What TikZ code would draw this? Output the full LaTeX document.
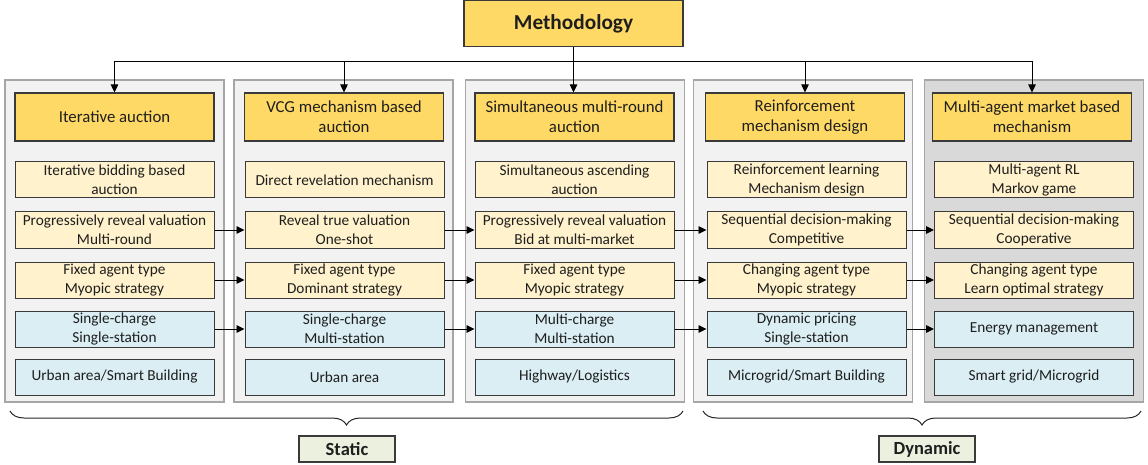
\documentclass[tikz,border=0pt]{standalone}
\usepackage{fontspec}
\setmainfont{Carlito}
\usetikzlibrary{arrows.meta,decorations.pathreplacing}
\definecolor{gold}{HTML}{FFD966}
\definecolor{cream}{HTML}{FFF2CC}
\definecolor{ltblue}{HTML}{DAEEF3}
\definecolor{panel}{HTML}{F2F2F2}
\definecolor{panelB}{HTML}{D9D9D9}
\definecolor{edge}{HTML}{3A3A3A}
\definecolor{ltgreen}{HTML}{EBF1DE}
\definecolor{txt}{HTML}{1E1E1E}
\begin{document}
\begin{tikzpicture}[x=1pt,y=-1pt,
  every node/.style={font=\fontsize{15.3}{18.7}\selectfont, text=txt, align=center, inner sep=0pt},
  panelbox/.style={draw=black!35, line width=1.3pt, fill=panel, minimum width=219pt, minimum height=322pt},
  headbox/.style={draw=edge, line width=1.1pt, fill=gold, minimum width=199pt, minimum height=48pt, font=\fontsize{16.8}{20.3}\selectfont},
  ybox/.style={draw=edge, line width=1pt, fill=cream, minimum width=199pt, minimum height=36pt},
  bbox/.style={draw=edge, line width=1pt, fill=ltblue, minimum width=199pt, minimum height=36pt},
  lblbox/.style={draw=edge, line width=1.1pt, fill=ltgreen, minimum width=96pt, minimum height=26pt, font=\fontsize{18.5}{20}\selectfont\bfseries},
  arr/.style={-{Triangle[length=8pt,width=7.5pt]}, line width=0.9pt, draw=black},
  bracestyle/.style={decorate, decoration={brace, mirror, amplitude=14pt}, line width=1pt, draw=black!85}
]
\useasboundingbox (0,0) rectangle (1148,465);

% panels
\node[panelbox] (p1) at (114.5,241) {};
\node[panelbox] (p2) at (343.5,241) {};
\node[panelbox] (p3) at (575,241) {};
\node[panelbox] (p4) at (803,241) {};
\node[panelbox, fill=panelB] (p5) at (1034,241) {};

% top
\node[draw=edge, line width=1.1pt, fill=gold, minimum width=219pt, minimum height=46pt,
      font=\fontsize{21.3}{24}\selectfont\bfseries] (meth) at (573.5,23.5) {Methodology};

% headers
\node[headbox] (h1) at (114.5,117) {Iterative auction};
\node[headbox] (h2) at (344,117) {VCG mechanism based\\auction};
\node[headbox] (h3) at (574.5,117) {Simultaneous multi-round\\auction};
\node[headbox] (h4) at (805,117) {Reinforcement\\mechanism design};
\node[headbox] (h5) at (1032,117) {Multi-agent market based\\mechanism};

% row 1
\node[ybox] (a1) at (114.5,180) {Iterative bidding based\\auction};
\node[ybox] (a2) at (344.5,180) {Direct revelation mechanism};
\node[ybox] (a3) at (574.5,180) {Simultaneous ascending\\auction};
\node[ybox] (a4) at (806.5,180) {Reinforcement learning\\Mechanism design};
\node[ybox] (a5) at (1034,180) {Multi-agent RL\\Markov game};
% row 2
\node[ybox] (b1) at (114.5,230) {Progressively reveal valuation\\Multi-round};
\node[ybox] (b2) at (344.5,230) {Reveal true valuation\\One-shot};
\node[ybox] (b3) at (574.5,230) {Progressively reveal valuation\\Bid at multi-market};
\node[ybox] (b4) at (806.5,230) {Sequential decision-making\\Competitive};
\node[ybox] (b5) at (1034,230) {Sequential decision-making\\Cooperative};
% row 3
\node[ybox] (c1) at (114.5,280) {Fixed agent type\\Myopic strategy};
\node[ybox] (c2) at (344.5,280) {Fixed agent type\\Dominant strategy};
\node[ybox] (c3) at (574.5,280) {Fixed agent type\\Myopic strategy};
\node[ybox] (c4) at (806.5,280) {Changing agent type\\Myopic strategy};
\node[ybox] (c5) at (1034,280) {Changing agent type\\Learn optimal strategy};
% row 4
\node[bbox] (d1) at (114.5,329) {Single-charge\\Single-station};
\node[bbox] (d2) at (344.5,329) {Single-charge\\Multi-station};
\node[bbox] (d3) at (574.5,329) {Multi-charge\\Multi-station};
\node[bbox] (d4) at (806.5,329) {Dynamic pricing\\Single-station};
\node[bbox] (d5) at (1034,329) {Energy management};
% row 5
\node[bbox] (e1) at (114.5,377) {Urban area/Smart Building};
\node[bbox] (e2) at (344.5,377) {Urban area};
\node[bbox] (e3) at (574.5,377) {Highway/Logistics};
\node[bbox] (e4) at (806.5,377) {Microgrid/Smart Building};
\node[bbox] (e5) at (1034,377) {Smart grid/Microgrid};

% top connectors
\coordinate (bus) at (0,61);
\draw[line width=0.9pt] (h1.north |- bus) -- (h5.north |- bus);
\draw[arr] (meth.south) -- (meth.south |- h3.north);
\draw[arr] (h1.north |- bus) -- (h1.north);
\draw[arr] (h2.north |- bus) -- (h2.north);
\draw[arr] (h4.north |- bus) -- (h4.north);
\draw[arr] (h5.north |- bus) -- (h5.north);

% row connectors
\foreach \r in {b,c,d}{
  \draw[arr] (\r1.east) -- (\r2.west);
  \draw[arr] (\r2.east) -- (\r3.west);
  \draw[arr] (\r3.east) -- (\r4.west);
  \draw[arr] (\r4.east) -- (\r5.west);
}

% braces
\coordinate (sL) at (10,411);
\coordinate (sR) at (683,411);
\coordinate (dL) at (703,411);
\coordinate (dR) at (1141,411);
\draw[bracestyle] (sL) -- (sR);
\draw[bracestyle] (dL) -- (dR);

\node[lblbox] (static) at (347,449) {Static};
\node[lblbox] (dynamic) at (927,449) {Dynamic};
\end{tikzpicture}
\end{document}
